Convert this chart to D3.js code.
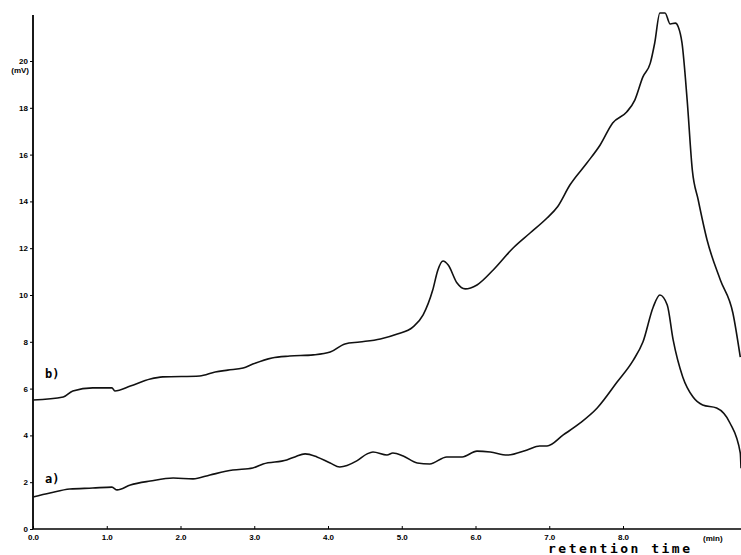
<!DOCTYPE html>
<html>
<head>
<meta charset="utf-8">
<script src="https://cdn.jsdelivr.net/npm/d3@7"></script>
<style>
  body { margin: 0; background: #fff; }
  .tick-label { font-family: "Liberation Sans", Arial, sans-serif; font-weight: bold; font-size: 8px; }
</style>
</head>
<body>
<script>
// chromatogram, two traces a) and b)
var xTicks = [0, 1, 2, 3, 4, 5, 6, 7, 8];
var xTickLabels = ["0.0", "1.0", "2.0", "3.0", "4.0", "5.0", "6.0", "7.0", "8.0"];
var yTicks = [0, 2, 4, 6, 8, 10, 12, 14, 16, 18, 20];

// retention time (min)
var timeB = [0, 0.41, 0.54, 0.81, 1.07, 1.11, 1.32, 1.59, 1.76, 2.26, 2.47, 2.64, 2.85, 2.98,
    3.24, 3.48, 3.80, 4.03, 4.23, 4.43, 4.71, 4.94, 5.15, 5.29, 5.42, 5.49, 5.56, 5.63, 5.75,
    5.86, 6.02, 6.24, 6.51, 6.74, 6.97, 7.11, 7.28, 7.51, 7.69, 7.86, 8.05, 8.16, 8.27, 8.37,
    8.43, 8.50, 8.57, 8.64, 8.71, 8.75, 8.80, 8.87, 8.94, 9.02, 9.14, 9.32, 9.49, 9.59];
// signal (mV)
var signalB = [5.51, 5.64, 5.90, 6.03, 6.03, 5.90, 6.11, 6.41, 6.50, 6.54, 6.71, 6.79, 6.88, 7.05,
    7.31, 7.39, 7.44, 7.56, 7.91, 7.99, 8.12, 8.33, 8.63, 9.15, 10.21, 11.07, 11.45, 11.28, 10.51,
    10.26, 10.43, 11.07, 12.01, 12.65, 13.29, 13.76, 14.70, 15.64, 16.41, 17.35, 17.82, 18.33, 19.32, 19.91,
    20.77, 22.05, 22.05, 21.58, 21.62, 21.45, 20.77, 18.33, 15.34, 14.06, 12.35, 10.64, 9.23, 7.35];

var timeA = [0, 0.23, 0.50, 0.81, 1.07, 1.14, 1.32, 1.59, 1.90, 2.17, 2.40, 2.71, 2.98, 3.12,
    3.44, 3.55, 3.69, 3.85, 4.03, 4.16, 4.39, 4.53, 4.61, 4.80, 4.88, 5.02, 5.21, 5.38, 5.61,
    5.82, 6.02, 6.20, 6.43, 6.70, 6.87, 6.97, 7.19, 7.42, 7.65, 7.92, 8.14, 8.27, 8.41, 8.50,
    8.60, 8.68, 8.81, 8.95, 9.08, 9.27, 9.45, 9.59, 9.60];
var signalA = [1.37, 1.54, 1.71, 1.75, 1.79, 1.67, 1.88, 2.05, 2.18, 2.14, 2.31, 2.52, 2.61, 2.78,
    2.95, 3.08, 3.21, 3.08, 2.82, 2.65, 2.91, 3.21, 3.29, 3.16, 3.25, 3.12, 2.82, 2.78, 3.08,
    3.08, 3.33, 3.29, 3.16, 3.38, 3.55, 3.55, 4.02, 4.53, 5.17, 6.28, 7.22, 7.99, 9.49, 10.00,
    9.57, 8.08, 6.50, 5.64, 5.30, 5.17, 4.53, 3.25, 2.60];

var width = 741, height = 555;
var svg = d3.select("body").append("svg")
    .attr("width", width)
    .attr("height", height);

var x = d3.scaleLinear().domain([0, 9.6]).range([33, 741]);
var y = d3.scaleLinear().domain([0, 22]).range([529, 14.2]);

// axes
var xAxis = d3.axisBottom(x).tickValues(xTicks).tickSize(-3)
    .tickFormat(function(d, i) { return xTickLabels[i]; });
var gx = svg.append("g").attr("transform", "translate(0," + y(0) + ")").call(xAxis);
gx.select(".domain").attr("stroke-width", 1.6).attr("d", "M33,0H741");
gx.selectAll("text").attr("class", "tick-label").attr("dy", "1.1em").attr("y", 2);

var yAxis = d3.axisLeft(y).tickValues(yTicks).tickSize(3);
var gy = svg.append("g").attr("transform", "translate(" + x(0) + ",0)").call(yAxis);
gy.select(".domain").attr("stroke-width", 1.8).attr("d", "M0,15V529");
gy.selectAll("text").attr("class", "tick-label").attr("x", -5);

svg.append("text").attr("class", "tick-label")
    .attr("x", 29).attr("y", y(20) + 12).attr("text-anchor", "end").text("(mV)");
svg.append("text").attr("class", "tick-label")
    .attr("x", 703).attr("y", 541).text("(min)");
svg.append("text")
    .attr("x", 548).attr("y", 553)
    .attr("textLength", 142).attr("lengthAdjust", "spacing")
    .style("font-family", "'DejaVu Sans Mono', monospace")
    .style("font-weight", "bold").style("font-size", "13px")
    .text("retention time");

// traces
var line = d3.line()
    .x(function(d) { return x(d[0]); })
    .y(function(d) { return y(d[1]); })
    .curve(d3.curveMonotoneX);

var traces = [d3.zip(timeA, signalA), d3.zip(timeB, signalB)];
svg.selectAll("path.trace").data(traces).enter().append("path")
    .attr("class", "trace")
    .attr("d", line)
    .attr("fill", "none")
    .attr("stroke", "#111")
    .attr("stroke-width", 1.6)
    .attr("stroke-linejoin", "round");

// trace labels
svg.append("text").attr("x", 45).attr("y", 378)
    .style("font-family", "'DejaVu Sans Mono', monospace")
    .style("font-weight", "bold").style("font-size", "12px").text("b)");
svg.append("text").attr("x", 45).attr("y", 483)
    .style("font-family", "'DejaVu Sans Mono', monospace")
    .style("font-weight", "bold").style("font-size", "12px").text("a)");
</script>
</body>
</html>
